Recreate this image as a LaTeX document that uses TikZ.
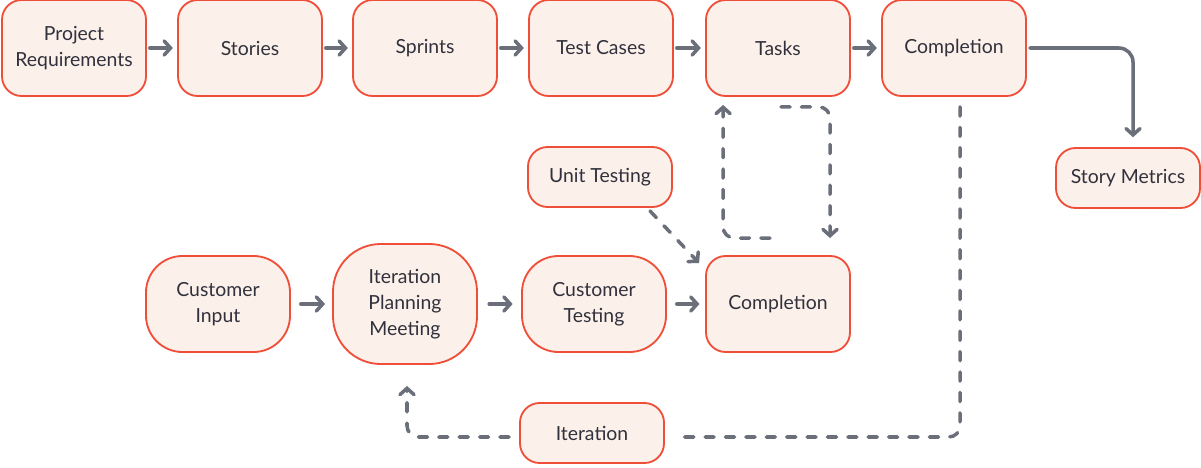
\documentclass[tikz,border=0pt]{standalone}
\usepackage{fontspec}
\setmainfont{Lato}
\usetikzlibrary{arrows.meta,calc}

\definecolor{blobfill}{HTML}{FCF0EA}
\definecolor{blobline}{HTML}{EF4F38}
\definecolor{flowgray}{HTML}{6B6F7A}
\definecolor{textdark}{HTML}{30313C}

\begin{document}
\begin{tikzpicture}[x=0.025cm,y=-0.025cm,
	blob/.style={draw=blobline,fill=blobfill,line width=1.3pt,rounded corners=14pt,
		minimum width=3.6cm,minimum height=2.4cm,align=center,text=textdark,
		font=\fontsize{13.8}{18.5}\selectfont,inner sep=2pt},
	roundblob/.style={blob,rounded corners=26pt},
	smallblob/.style={blob,minimum height=1.5cm},
	dashline/.style={draw=flowgray,line width=2.5pt,line cap=round,dash pattern=on 6.5pt off 8pt,rounded corners=8pt},
	flow/.style={draw=flowgray,line width=2.5pt,line cap=round,
		-{Straight Barb[length=4.5pt,width=10pt,line cap=round]}},
	loop/.style={dashline,-{Straight Barb[length=4.5pt,width=10pt,line cap=round]}}]
	\useasboundingbox (0,0) rectangle (1201,467);
	% top row
	\node[blob] (preq) at (74,48) {Project\\Requirements};
	\node[blob] (stories) at (250,48) {Stories};
	\node[blob] (sprints) at (425,48) {Sprints};
	\node[blob] (tcases) at (601,48) {Test Cases};
	\node[blob] (tasks) at (778,48) {Tasks};
	\node[blob] (compl) at (954,48) {Completion};
	\node[smallblob] (smetrics) at (1128,178) {Story Metrics};
	% lower part
	\node[smallblob] (utest) at (600,177) {Unit Testing};
	\node[roundblob] (cinput) at (218,304) {Customer\\Input};
	\node[roundblob,minimum height=3cm,rounded corners=34pt] (ipm) at (405,304) {Iteration\\Planning\\Meeting};
	\node[roundblob] (ctest) at (594,304) {Customer\\Testing};
	\node[blob] (compl2) at (778,304) {Completion};
	\node[smallblob] (iter) at (592,433) {Iteration};

	\draw[flow,shorten <=2pt,shorten >=3pt] (preq) -- (stories);
	\draw[flow,shorten <=2pt,shorten >=3pt] (stories) -- (sprints);
	\draw[flow,shorten <=2pt,shorten >=3pt] (sprints) -- (tcases);
	\draw[flow,shorten <=2pt,shorten >=3pt] (tcases) -- (tasks);
	\draw[flow,shorten <=2pt,shorten >=3pt] (tasks) -- (compl);
	\draw[flow,rounded corners=10pt,shorten <=2pt,shorten >=7pt] (compl.east) -| ($(smetrics.north)+(5,0)$);

	\draw[flow,shorten <=7pt,shorten >=5pt] (cinput) -- (ipm);
	\draw[flow,shorten <=8pt,shorten >=6pt] (ipm) -- (ctest);
	\draw[flow,shorten <=7pt,shorten >=4pt] (ctest) -- (compl2);

	\draw[loop] ($(compl2.north)+(-8,-17)$) -| ($(tasks.south west)+(18,8)$);
	\draw[loop] ($(tasks.south)+(3,10)$) -| ($(compl2.north)+(52,-17)$);
	\draw[loop] ($(utest.south)+(50,3)$) -- ($(compl2.north west)+(-6,8)$);

	\draw[dashline] ($(compl.south)+(6,10)$) |- ($(iter.east)+(12,4)$);
	\draw[loop] ($(iter.west)+(-10,4)$) -| ($(ipm.south)+(2,21)$);
\end{tikzpicture}
\end{document}
